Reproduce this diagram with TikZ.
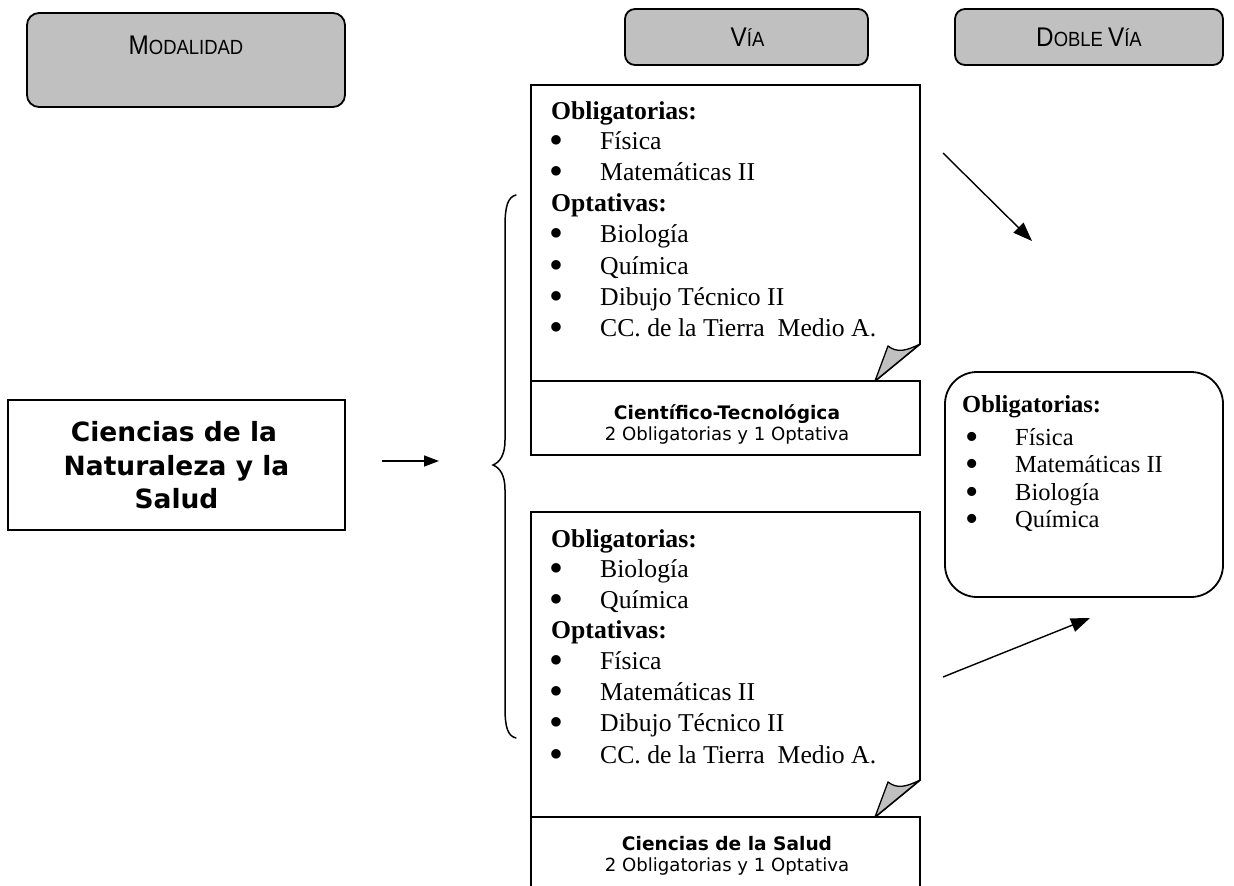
\documentclass[tikz,border=0pt]{standalone}
\usepackage{fontspec}
\setmainfont{Liberation Serif}
\newfontfamily\tahoma{DejaVu Sans}
\newfontfamily\arialf{Liberation Sans}
\usetikzlibrary{arrows.meta}
\definecolor{boxgray}{HTML}{C0C0C0}
\newcommand\bigbul{\raisebox{-4pt}[0pt][0pt]{\scalebox{1.55}{\textbullet}}}
\newcommand\bulA[1]{\makebox[49pt][l]{\hspace{-1.5pt}\bigbul}#1}
\newcommand\bulB[1]{\makebox[53pt][l]{\hspace{3pt}\bigbul}#1}
\newcommand\smc[2]{\scalebox{0.9}[1]{\arialf\fontsize{27}{27}\selectfont #1\fontsize{20.5}{20.5}\selectfont #2}}
\begin{document}
\begin{tikzpicture}[x=1pt,y=-1pt,
  graybox/.style={draw=black, line width=1.8pt, fill=boxgray, rounded corners=12pt, inner sep=0pt},
  plainbox/.style={draw=black, line width=1.8pt},
  flap/.style={draw=black, line width=1.3pt, fill=boxgray, line join=round},
  titletxt/.style={anchor=base, inner sep=0pt},
  listtxt/.style={anchor=base west, inner sep=0pt, text height=18pt, text depth=6pt, font=\fontsize{25.7}{31}\selectfont},
  listhead/.style={listtxt, font=\fontsize{25.7}{31}\selectfont\bfseries},
  dvtxt/.style={anchor=base west, inner sep=0pt, text height=17pt, text depth=5pt, font=\fontsize{24.5}{28}\selectfont},
  dvhead/.style={dvtxt, font=\fontsize{24.5}{28}\selectfont\bfseries},
  capbold/.style={anchor=base, inner sep=0pt, text height=14pt, text depth=4pt, font=\tahoma\bfseries\fontsize{18.6}{21}\selectfont},
  capreg/.style={anchor=base, inner sep=0pt, text height=14pt, text depth=4pt, font=\tahoma\fontsize{18.1}{21}\selectfont},
  bigtxt/.style={anchor=base, inner sep=0pt, text height=20pt, text depth=6pt, font=\tahoma\bfseries\fontsize{26.5}{33.5}\selectfont},
  arr/.style={line width=1.4pt, -{Triangle[length=19pt,width=14pt]}},
  brace/.style={line width=1.5pt, line cap=round}
]
\useasboundingbox (0,0) rectangle (1234,886);
\fill[white] (0,0) rectangle (1234,886);

% title boxes
\node[graybox, minimum width=318pt, minimum height=94pt] (modbox) at (186,60) {};
\node[titletxt] (modtxt) at (186,54) {\smc{M}{ODALIDAD}};
\node[graybox, rounded corners=10pt, minimum width=243pt, minimum height=56pt] (viabox) at (746.5,37) {};
\node[titletxt] (viatxt) at (747.5,46) {\smc{V}{ÍA}};
\node[graybox, rounded corners=10pt, minimum width=268pt, minimum height=56pt] (dvbox) at (1089,37) {};
\node[titletxt] (dvtitle) at (1089,46) {\smc{D}{OBLE\ }\smc{V}{ÍA}};

% left box
\node[plainbox, minimum width=337pt, minimum height=130pt, inner sep=0pt] (cien) at (176.5,465) {};
\node[bigtxt] (cien1) at (174,441) {Ciencias de la};
\node[bigtxt] (cien2) at (176.5,475) {Naturaleza y la};
\node[bigtxt] (cien3) at (176.5,508) {Salud};

\coordinate (sa1) at (382,461);
\coordinate (sa2) at (439,461);
\draw[arr, -{Triangle[length=15pt,width=11pt]}] (sa1) -- (sa2);

% brace
\draw[brace] (516,195) .. controls (508,197) and (505,206) .. (505,226)
  -- (505,440) .. controls (505,455) and (500,462) .. (493,465)
  .. controls (500,468) and (505,475) .. (505,490)
  -- (505,708) .. controls (505,728) and (508,736) .. (516,738);

% top list box
\draw[plainbox, line join=miter] (531,381) -- (531,85) -- (920,85) -- (920,344) -- (875,381);
\draw[flap] (875,381) -- (888,346) .. controls (897,353) and (906,351) .. (920,344) -- cycle;
\draw[plainbox] (531,381) rectangle (920,455);
\node[listhead] (t0) at (551,119) {Obligatorias:};
\node[listtxt] (t1) at (551,149) {\bulA{Física}};
\node[listtxt] (t2) at (551,180) {\bulA{Matemáticas II}};
\node[listhead] (t3) at (551,211) {Optativas:};
\node[listtxt] (t4) at (551,242) {\bulA{Biología}};
\node[listtxt] (t5) at (551,274) {\bulA{Química}};
\node[listtxt] (t6) at (551,305) {\bulA{Dibujo Técnico II}};
\node[listtxt] (t7) at (551,336) {\bulA{CC. de la Tierra\ \ Medio A.}};
\node[capbold] (tc1) at (727,419.5) {Científico-Tecnológica};
\node[capreg] (tc2) at (727,440.5) {2 Obligatorias y 1 Optativa};

% bottom list box
\draw[plainbox, line join=miter] (531,817) -- (531,512) -- (920,512) -- (920,780) -- (875,817);
\draw[flap] (875,817) -- (888,782) .. controls (897,789) and (906,787) .. (920,780) -- cycle;
\draw[plainbox] (531,817) rectangle (920,900);
\node[listhead] (b0) at (551,547) {Obligatorias:};
\node[listtxt] (b1) at (551,577) {\bulA{Biología}};
\node[listtxt] (b2) at (551,608) {\bulA{Química}};
\node[listhead] (b3) at (551,638) {Optativas:};
\node[listtxt] (b4) at (551,669) {\bulA{Física}};
\node[listtxt] (b5) at (551,700) {\bulA{Matemáticas II}};
\node[listtxt] (b6) at (551,731) {\bulA{Dibujo Técnico II}};
\node[listtxt] (b7) at (551,763) {\bulA{CC. de la Tierra\ \ Medio A.}};
\node[capbold] (bc1) at (727,850.5) {Ciencias de la Salud};
\node[capreg] (bc2) at (727,871.5) {2 Obligatorias y 1 Optativa};

% doble via content
\node[draw=black, line width=1.8pt, rounded corners=32pt, minimum width=278pt, minimum height=225pt, inner sep=0pt] (dvc) at (1084,484.5) {};
\node[dvhead] (d0) at (962,412) {Obligatorias:};
\node[dvtxt] (d1) at (962,445) {\bulB{Física}};
\node[dvtxt] (d2) at (962,472) {\bulB{Matemáticas II}};
\node[dvtxt] (d3) at (962,500) {\bulB{Biología}};
\node[dvtxt] (d4) at (962,527) {\bulB{Química}};

% arrows to doble via
\coordinate (a1s) at (943,153);
\coordinate (a1e) at (1032,241);
\coordinate (a2s) at (943,677);
\coordinate (a2e) at (1090,618);
\draw[arr] (a1s) -- (a1e);
\draw[arr] (a2s) -- (a2e);
\end{tikzpicture}
\end{document}
